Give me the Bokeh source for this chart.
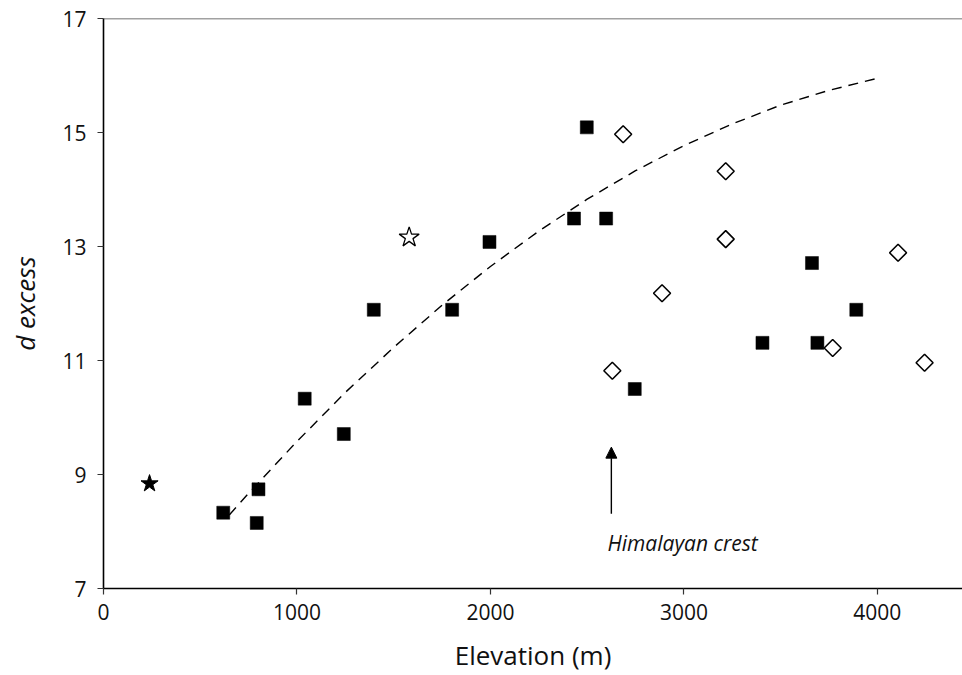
from bokeh.plotting import figure
from bokeh.models import Range1d, FixedTicker, Span, Arrow, NormalHead, Label
from bokeh.embed import file_html
from bokeh.resources import INLINE
import math

# ---- data ----
sq_x = [619, 801, 792, 1040, 1242, 1397, 1802, 1995, 2432, 2498, 2598, 2746, 3406, 3662, 3690, 3891]
sq_y = [8.33, 8.74, 8.15, 10.33, 9.71, 11.89, 11.89, 13.08, 13.49, 15.09, 13.49, 10.50, 11.31, 12.71, 11.31, 11.89]

dia_x = [2630, 2686, 2887, 3216, 3216, 3769, 4107, 4244]
dia_y = [10.82, 14.97, 12.18, 14.32, 13.13, 11.22, 12.89, 10.96]

star_filled_x = [238]
star_filled_y = [8.84]
star_open_x = [1580]
star_open_y = [13.16]

curve_x = [650, 750, 1000, 1250, 1500, 1750, 2000, 2250, 2500, 2750, 3000, 3250, 3500, 3750, 4000]
curve_y = [8.29, 8.67, 9.58, 10.44, 11.23, 11.97, 12.65, 13.27, 13.83, 14.33, 14.77, 15.15, 15.48, 15.74, 15.95]

x_ticks = [0, 1000, 2000, 3000, 4000]
y_ticks = [7, 9, 11, 13, 15, 17]

arrow_x = 2625
arrow_y_start = 8.31
arrow_y_end = 9.48
note_text = "Himalayan crest"
note_x = 2605
note_y = 7.79

FONT = "Open Sans"

p = figure(width=962, height=675,
           x_range=Range1d(0, 4440), y_range=Range1d(7, 17),
           output_backend="svg", toolbar_location=None,
           min_border_left=103, min_border_right=0,
           min_border_top=18, min_border_bottom=87)
p.grid.visible = False
p.outline_line_color = None
p.background_fill_color = "white"
p.border_fill_color = "white"

for ax in (p.xaxis[0], p.yaxis[0]):
    ax.axis_line_width = 1.6
    ax.axis_line_color = "black"
    ax.major_tick_out = 6
    ax.major_tick_in = 0
    ax.major_tick_line_width = 1.2
    ax.major_tick_line_color = "#333333"
    ax.minor_tick_line_color = None
    ax.major_label_text_font = FONT
    ax.major_label_text_font_size = "21px"
    ax.major_label_text_color = "#111111"
    ax.axis_label_text_font = FONT
    ax.axis_label_text_color = "#111111"

p.xaxis.ticker = FixedTicker(ticks=x_ticks)
p.yaxis.ticker = FixedTicker(ticks=y_ticks)
p.xaxis.major_label_standoff = 9
p.yaxis.major_label_standoff = 11

p.xaxis.axis_label = "Elevation (m)"
p.xaxis.axis_label_text_font_size = "26px"
p.xaxis.axis_label_text_font_style = "normal"
p.xaxis.axis_label_standoff = 14

p.yaxis.axis_label = "d excess"
p.yaxis.axis_label_text_font_size = "26px"
p.yaxis.axis_label_text_font_style = "italic"
p.yaxis.axis_label_standoff = 16

# top frame line
p.add_layout(Span(location=17, dimension="width", line_color="#444444", line_width=1.5))

# dashed trend curve
p.line(curve_x, curve_y, line_color="black", line_width=1.4, line_dash="10 7")

# markers
p.scatter(sq_x, sq_y, marker="square", size=13, fill_color="black", line_color="black", line_width=0.5)
p.scatter(dia_x, dia_y, marker="square", angle=math.pi / 4, size=12,
          fill_color="white", line_color="black", line_width=1.6)
p.scatter(star_filled_x, star_filled_y, marker="star", size=18, fill_color="black", line_color="black")
p.scatter(star_open_x, star_open_y, marker="star", size=21, fill_color="white",
          line_color="black", line_width=1.3)

# arrow and note
p.add_layout(Arrow(end=NormalHead(size=11, fill_color="black", line_color="black"),
                   x_start=arrow_x, y_start=arrow_y_start, x_end=arrow_x, y_end=arrow_y_end,
                   line_color="black", line_width=1.4))
p.add_layout(Label(x=note_x, y=note_y, text=note_text, text_font=FONT,
                   text_font_style="italic", text_font_size="21px",
                   text_color="#111111", text_baseline="alphabetic", text_align="left"))

open("out.html", "w").write(file_html(p, INLINE))
